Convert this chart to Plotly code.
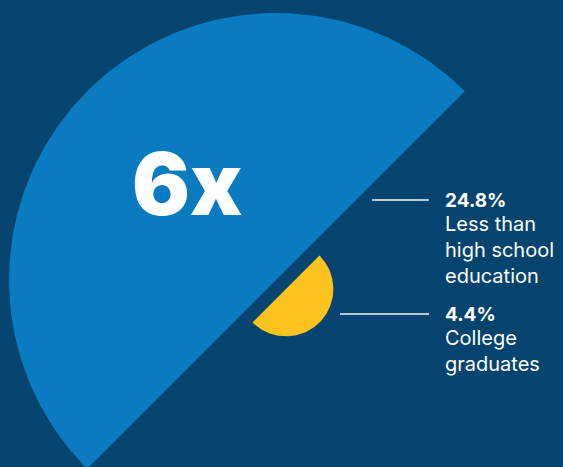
import numpy as np
import plotly.graph_objects as go

# ---- data ----
categories = ["Less than<br>high school<br>education", "College<br>graduates"]
values = [24.8, 4.4]
multiple_label = "6x"

# ---- style / layout constants ----
W, H = 563, 467
BG = "#05446F"
COLORS = ["#0A7BC0", "#FCC31F"]
SCALE = 267 / 24.8                       # px of radius per percentage point
CENTERS = [(276, 280), (286, 289)]      # diameter midpoints (px)
SIDES = [-1, 1]                          # -1: arc toward upper-left, 1: toward lower-right
LABEL_Y = [200, 314]
LINE_X0 = [372, 340]
LINE_X1 = 429
TEXT_X = 443

fig = go.Figure()
d = np.array([1, -1]) / np.sqrt(2)
for val, col, (cx, cy), side in zip(values, COLORS, CENTERS, SIDES):
    R = val * SCALE
    n = side * np.array([1, 1]) / np.sqrt(2)
    th = np.linspace(0, np.pi, 240)
    xs = cx + R * (np.cos(th) * d[0] + np.sin(th) * n[0])
    ys = cy + R * (np.cos(th) * d[1] + np.sin(th) * n[1])
    fig.add_trace(go.Scatter(x=np.append(xs, xs[0]), y=np.append(ys, ys[0]),
                             fill="toself", fillcolor=col, mode="lines",
                             line=dict(width=0, color=col), hoverinfo="skip",
                             showlegend=False))

for i, (cat, val) in enumerate(zip(categories, values)):
    y = LABEL_Y[i]
    fig.add_shape(type="line", x0=LINE_X0[i], x1=LINE_X1, y0=y, y1=y,
                  line=dict(color="#F2F5F8", width=1.4), layer="above")
    fig.add_annotation(x=TEXT_X, y=y, text=f"<b>{val}%</b>", showarrow=False,
                       xanchor="left", yanchor="middle",
                       font=dict(family="Inter", size=19, color="white"))
    fig.add_annotation(x=TEXT_X, y=y + 10, text=cat, showarrow=False,
                       xanchor="left", yanchor="top", align="left",
                       font=dict(family="Inter", size=20, color="white"))

fig.add_annotation(x=187, y=184, text=multiple_label, showarrow=False,
                   xanchor="center", yanchor="middle",
                   font=dict(family="Inter", size=86, color="white", weight=900))

fig.update_layout(width=W, height=H, margin=dict(l=0, r=0, t=0, b=0),
                  paper_bgcolor=BG, plot_bgcolor=BG,
                  xaxis=dict(range=[0, W], visible=False, fixedrange=True),
                  yaxis=dict(range=[H, 0], visible=False, fixedrange=True))
fig.write_html("out.html", config={"displayModeBar": False},
               post_script="document.body.style.margin='0';"
                           "document.body.style.background='" + BG + "';")
